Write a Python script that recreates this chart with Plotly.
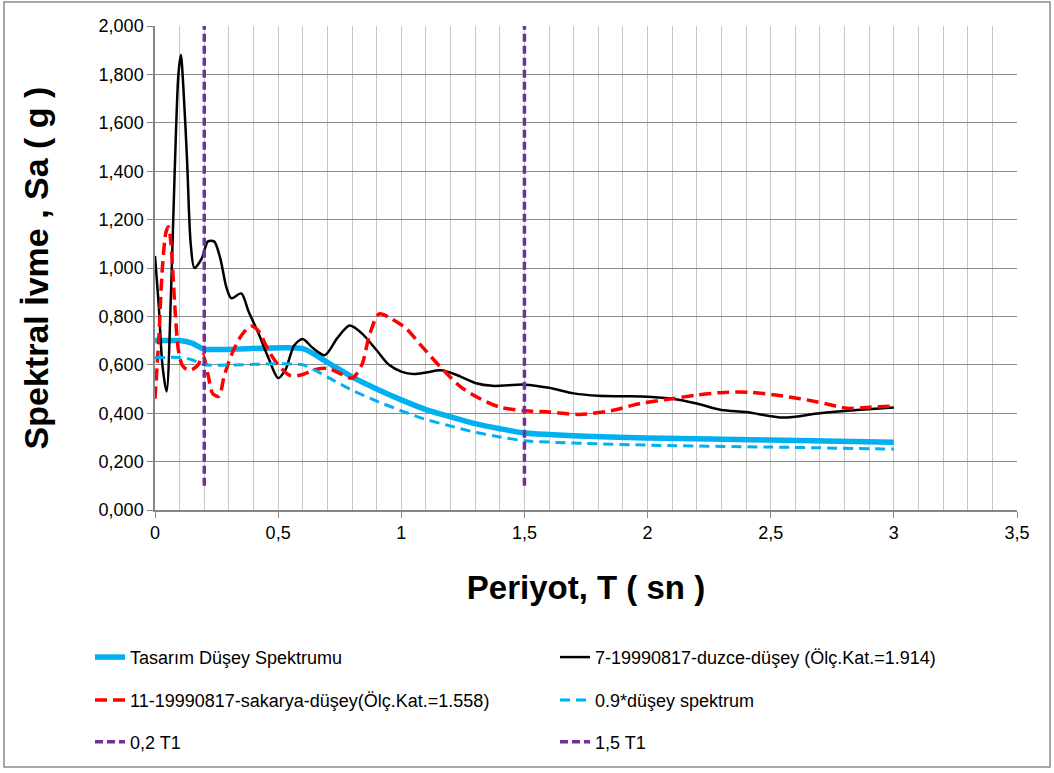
import plotly.graph_objects as go

# Period axis (s) and spectral accelerations (g)
T_design = [0, 0.10, 0.15, 0.20, 0.60, 0.70, 0.80, 0.90, 1.00, 1.10, 1.20, 1.30,
            1.40, 1.50, 1.75, 2.00, 2.50, 3.00]
design_vertical = [0.700, 0.700, 0.690, 0.665, 0.667, 0.610, 0.550, 0.500, 0.455,
                   0.415, 0.385, 0.357, 0.336, 0.318, 0.305, 0.298, 0.289, 0.280]
design_vertical_09 = [0.630, 0.630, 0.621, 0.600, 0.600, 0.549, 0.495, 0.450, 0.410,
                      0.374, 0.347, 0.321, 0.302, 0.286, 0.275, 0.268, 0.260, 0.252]

T_duzce = [0, 0.015, 0.03, 0.047, 0.065, 0.08, 0.095, 0.105, 0.115, 0.13, 0.145,
           0.16, 0.19, 0.215, 0.24, 0.265, 0.29, 0.31, 0.35, 0.38, 0.42, 0.46,
           0.50, 0.53, 0.565, 0.60, 0.64, 0.69, 0.74, 0.79, 0.84, 0.90, 0.95,
           1.00, 1.05, 1.10, 1.16, 1.22, 1.30, 1.37, 1.50, 1.60, 1.70, 1.80,
           1.90, 2.00, 2.10, 2.20, 2.30, 2.40, 2.55, 2.70, 2.85, 3.00]
sa_duzce = [1.05, 0.85, 0.60, 0.49, 0.90, 1.40, 1.80, 1.88, 1.75, 1.45, 1.10,
            1.00, 1.04, 1.11, 1.11, 1.04, 0.92, 0.875, 0.895, 0.82, 0.73, 0.63,
            0.545, 0.58, 0.68, 0.707, 0.67, 0.64, 0.71, 0.762, 0.73, 0.66, 0.60,
            0.572, 0.562, 0.568, 0.577, 0.56, 0.525, 0.513, 0.518, 0.505, 0.482,
            0.472, 0.470, 0.468, 0.460, 0.440, 0.413, 0.405, 0.382, 0.400, 0.413,
            0.424]

T_sakarya = [0, 0.015, 0.03, 0.045, 0.055, 0.065, 0.08, 0.095, 0.11, 0.13, 0.15,
             0.175, 0.195, 0.215, 0.235, 0.26, 0.28, 0.31, 0.35, 0.39, 0.42,
             0.46, 0.50, 0.55, 0.60, 0.65, 0.70, 0.75, 0.80, 0.84, 0.87, 0.91,
             0.96, 1.02, 1.08, 1.16, 1.24, 1.32, 1.40, 1.50, 1.60, 1.72, 1.85,
             1.97, 2.10, 2.20, 2.31, 2.42, 2.52, 2.62, 2.72, 2.81, 2.90, 3.00]
sa_sakarya = [0.46, 0.70, 1.00, 1.15, 1.17, 1.10, 0.85, 0.66, 0.60, 0.58, 0.58,
              0.60, 0.64, 0.56, 0.48, 0.47, 0.55, 0.64, 0.72, 0.76, 0.74, 0.66,
              0.60, 0.555, 0.56, 0.58, 0.585, 0.565, 0.545, 0.60, 0.72, 0.81,
              0.79, 0.75, 0.68, 0.59, 0.51, 0.46, 0.425, 0.41, 0.405, 0.395,
              0.41, 0.44, 0.46, 0.475, 0.486, 0.486, 0.475, 0.46, 0.44, 0.42,
              0.425, 0.43]

# Reference periods 0.2*T1 and 1.5*T1
marker_periods = [0.2, 1.5]
marker_names = ["0,2 T1", "1,5 T1"]
marker_range = [0.1, 2.0]

x_ticks = [0, 0.5, 1, 1.5, 2, 2.5, 3, 3.5]

BLUE = "#00B0F0"
RED = "#FF0000"
PURPLE = "#7030A0"
FONT = "Liberation Sans, Arial, sans-serif"

W, H = 1054, 773
L, R, TOP, B = 155, 37, 26, 261
pw, ph = W - L - R, H - TOP - B


def px_x(p):
    return (p - L) / pw


def px_y(p):
    return (H - B - p) / ph


fig = go.Figure()

fig.add_trace(go.Scatter(
    x=T_design, y=design_vertical, mode="lines", name="Tasarım Düşey Spektrumu",
    line=dict(color=BLUE, width=5.5, shape="spline", smoothing=0.6),
    legend="legend"))
fig.add_trace(go.Scatter(
    x=T_duzce, y=sa_duzce, mode="lines",
    name="7-19990817-duzce-düşey (Ölç.Kat.=1.914)",
    line=dict(color="black", width=2.5, shape="spline", smoothing=0.8),
    legend="legend"))
fig.add_trace(go.Scatter(
    x=T_sakarya, y=sa_sakarya, mode="lines",
    name="11-19990817-sakarya-düşey(Ölç.Kat.=1.558)",
    line=dict(color=RED, width=3.5, dash="12px,6px", shape="spline", smoothing=0.8),
    legend="legend2"))
fig.add_trace(go.Scatter(
    x=T_design, y=design_vertical_09, mode="lines", name="0.9*düşey spektrum",
    line=dict(color=BLUE, width=3, dash="10px,6px", shape="spline", smoothing=0.6),
    legend="legend2"))
for tp, nm in zip(marker_periods, marker_names):
    fig.add_trace(go.Scatter(
        x=[tp, tp], y=marker_range, mode="lines", name=nm,
        line=dict(color=PURPLE, width=3.5, dash="8px,4px"),
        legend="legend3"))

legend_common = dict(
    orientation="h", xanchor="left", yanchor="middle", x=px_x(90),
    font=dict(family=FONT, size=18, color="#000"), entrywidth=420,
    entrywidthmode="pixels", bgcolor="rgba(0,0,0,0)", itemclick=False,
)

fig.update_layout(
    width=W, height=H,
    margin=dict(l=L, r=R, t=TOP, b=B),
    paper_bgcolor="white", plot_bgcolor="white",
    separators=",.",
    font=dict(family=FONT, size=18, color="#000"),
    legend=dict(**legend_common, y=px_y(660)),
    legend2=dict(**legend_common, y=px_y(703)),
    legend3=dict(**legend_common, y=px_y(745)),
    xaxis=dict(
        range=[0, 3.5], tickvals=x_ticks, ticks="outside", ticklen=6,
        tickcolor="#868686", showline=True, linecolor="#868686", linewidth=1.5,
        showgrid=True, gridcolor="#C8C8C8", gridwidth=1,
        minor=dict(dtick=0.1, showgrid=True, gridcolor="#C8C8C8", gridwidth=1),
        zeroline=False, tickfont=dict(size=18),
        title=dict(text="<b>Periyot, T ( sn )</b>", font=dict(size=33), standoff=34),
    ),
    yaxis=dict(
        range=[0, 2.0], dtick=0.2, tickformat=".3f", ticks="outside", ticklen=6,
        tickcolor="#868686", showline=True, linecolor="#868686", linewidth=1.5,
        showgrid=True, gridcolor="#8C8C8C", gridwidth=1, zeroline=False,
        tickfont=dict(size=18),
        title=dict(text="<b>Spektral İvme , Sa ( g )</b>", font=dict(size=34), standoff=40),
    ),
    shapes=[dict(type="rect", xref="paper", yref="paper",
                 x0=px_x(4), x1=px_x(1050), y0=px_y(770), y1=px_y(2),
                 line=dict(color="#8A8A8A", width=1.5), layer="below")],
)

fig.write_html("out.html")
